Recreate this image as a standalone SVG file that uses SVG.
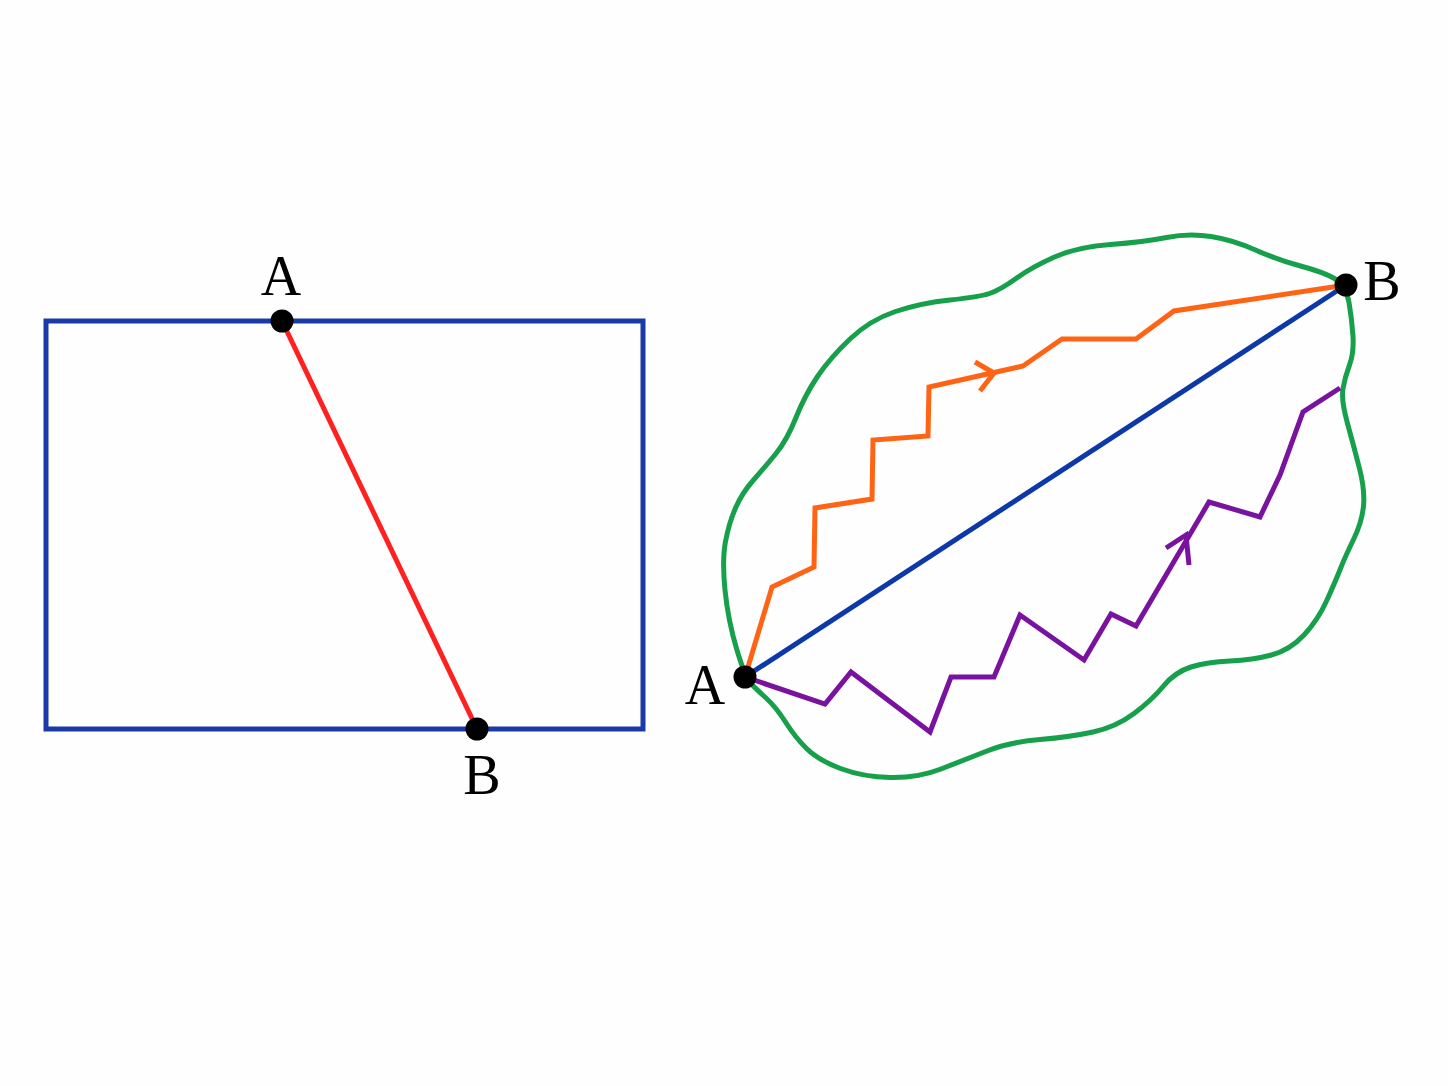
<svg xmlns="http://www.w3.org/2000/svg" width="1448" height="1086" viewBox="0 0 1448 1086">
<style>
.ln{fill:none;stroke-width:5;stroke-linejoin:miter;stroke-linecap:butt}
.lbl{font-family:"Liberation Serif","DejaVu Serif",serif;font-size:56px;fill:#000;text-anchor:middle}
.dot{fill:#000}
</style>
<rect width="1448" height="1086" fill="#fefefe"/>
<g id="left-figure">
  <rect id="rectangle" x="46" y="321" width="597" height="408" class="ln" stroke="#1a3aa8"/>
  <line id="segment-AB" x1="282" y1="321" x2="477" y2="729" class="ln" stroke="#ff2020"/>
  <g id="left-A"><circle cx="282" cy="321" r="11.5" class="dot"/><text x="281" y="295" class="lbl">A</text></g>
  <g id="left-B"><circle cx="477" cy="729" r="11.5" class="dot"/><text x="482" y="794" class="lbl">B</text></g>
</g>
<g id="right-figure">
  <path id="region" class="ln" stroke="#17a04c" d="M750,682.5 Q745,677 736.5,648.5 T725,590 T725.5,541.5 T735.5,508 T753.5,480 T776,453.5 T796,417.5 T817.5,376.5 T850,339 T895.5,311.5 T950,300 T989.5,293.5 T1016,278.5 T1054.5,257 T1110.5,244.5 T1166.5,237.5 T1211,236.5 T1255.5,250 T1300.5,266 T1334.5,278.5 T1349,302.5 T1353,336.5 T1349.5,365 T1343,388.5 T1347.5,423.5 T1359.5,468.5 T1363.5,506 T1353.5,539.5 T1340.5,568.5 T1327,600 T1304,635 T1271.5,655 T1230,661 T1191,667 T1163.5,686 T1134,713.5 T1093,732 T1040,739.5 T987,751 T941,769 T890.5,777.5 T840.5,768.5 T806.5,748.5 T785.5,722 T765.5,697.5 T750,682.5 Z"/>
  <g id="connectors">
    <polyline id="path-orange" class="ln" stroke="#ff6414" points="745,677 772,587 814,567 815,508 872,499 873,440 928,436 929,387 1023,366 1062,339 1136,339 1174,311 1346,285"/>
    <path id="arrow-orange" class="ln" stroke="#ff6414" d="M975,362 L994,373 L980,391"/>
    <polyline id="path-purple" class="ln" stroke="#7a12a0" points="745,677 825,704 851,672 930,732 951,677 994,677 1020,615 1084,660 1111,614 1136,626 1209,502 1260,517 1280,475 1303,412 1340,388"/>
    <path id="arrow-purple" class="ln" stroke="#7a12a0" d="M1166,548 L1186,535 L1189,565"/>
    <line id="segment-blue" x1="745" y1="677" x2="1346" y2="285" class="ln" stroke="#0d38a8"/>
  </g>
  <g id="right-A"><circle cx="745" cy="677" r="11.5" class="dot"/><text x="705" y="704" class="lbl">A</text></g>
  <g id="right-B"><circle cx="1346" cy="285" r="11.5" class="dot"/><text x="1382" y="300" class="lbl">B</text></g>
</g>
</svg>
